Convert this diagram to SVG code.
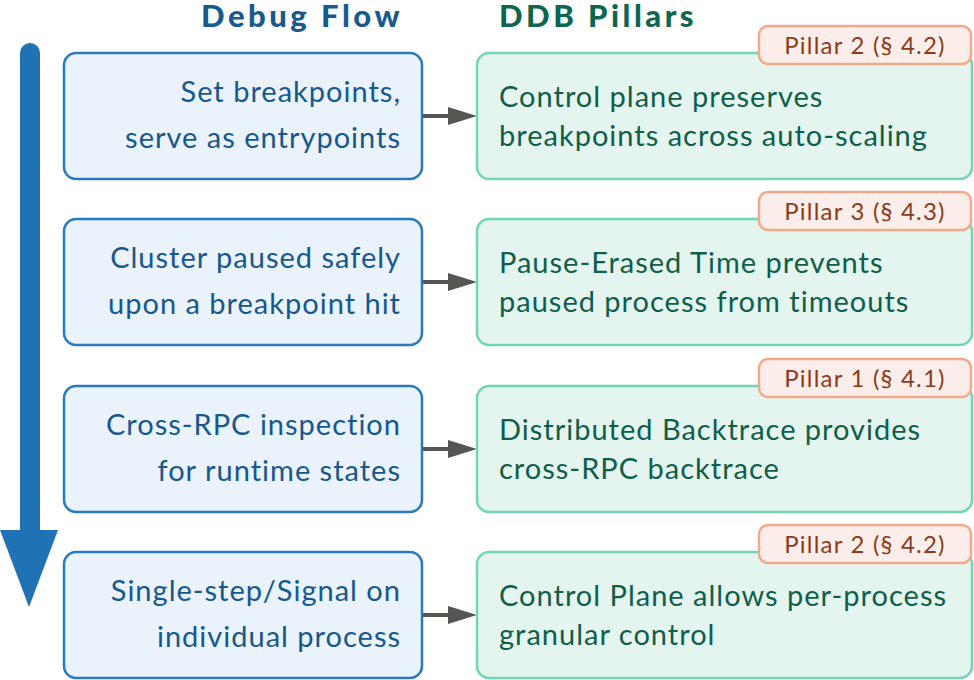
<svg xmlns="http://www.w3.org/2000/svg" width="974" height="680" viewBox="0 0 974 680">
<defs>
<style>
.hdr{font-family:Lato,"Open Sans",sans-serif;font-weight:900;font-size:31px;letter-spacing:3.5px}
.lbox{fill:#eaf2fb;stroke:#2a7abf;stroke-width:2.5}
.rbox{fill:#e4f5ef;stroke:#72d6b2;stroke-width:2.5}
.tag{fill:#fbeeea;stroke:#f2a98b;stroke-width:2.5}
.lt{font-family:Lato,"Open Sans",sans-serif;font-size:29px;letter-spacing:1px;fill:#16588e;text-anchor:end}
.rt{font-family:Lato,"Open Sans",sans-serif;font-size:29px;letter-spacing:1px;fill:#0e5e4a}
.tt{font-family:Lato,"Open Sans",sans-serif;font-size:24px;letter-spacing:1.2px;fill:#8b3a1a;text-anchor:middle}
.con{stroke:#555552;stroke-width:4;fill:none}
</style>
</defs>
<rect width="974" height="680" fill="#ffffff"/>
<text class="hdr" x="403" y="27" text-anchor="end" fill="#185a8c">Debug Flow</text>
<text class="hdr" x="499" y="27" fill="#0d6650">DDB Pillars</text>
<g id="flow-arrow">
<path d="M20,53 a10,10 0 0 1 20,0 L40,530 L58,530 L29,607 L0,530 L20,530 Z" fill="#1f72b4"/>
</g>
<g id="connectors">
<path class="con" d="M423,116 L450,116"/>
<polygon points="448,107 477,116 448,125" fill="#555552"/>
<path class="con" d="M423,282 L450,282"/>
<polygon points="448,273 477,282 448,291" fill="#555552"/>
<path class="con" d="M423,449 L450,449"/>
<polygon points="448,440 477,449 448,458" fill="#555552"/>
<path class="con" d="M423,615 L450,615"/>
<polygon points="448,606 477,615 448,624" fill="#555552"/>
</g>
<g id="l1"><rect class="lbox" x="64" y="53" width="358" height="126" rx="12"/><text class="lt" x="401" y="102">Set breakpoints,</text><text class="lt" x="401" y="148">serve as entrypoints</text></g>
<g id="l2"><rect class="lbox" x="64" y="219" width="358" height="126" rx="12"/><text class="lt" x="401" y="268">Cluster paused safely</text><text class="lt" x="401" y="314">upon a breakpoint hit</text></g>
<g id="l3"><rect class="lbox" x="64" y="386" width="358" height="126" rx="12"/><text class="lt" x="401" y="435">Cross-RPC inspection</text><text class="lt" x="401" y="481">for runtime states</text></g>
<g id="l4"><rect class="lbox" x="64" y="552" width="358" height="126" rx="12"/><text class="lt" x="401" y="601">Single-step/Signal on</text><text class="lt" x="401" y="647">individual process</text></g>
<g id="r1"><rect class="rbox" x="477" y="53" width="495" height="126" rx="12"/><text class="rt" x="499" y="107">Control plane preserves</text><text class="rt" x="499" y="146">breakpoints across auto-scaling</text></g>
<g id="t1"><rect class="tag" x="759" y="26" width="212" height="38" rx="9"/><text class="tt" x="865" y="54">Pillar 2 (§ 4.2)</text></g>
<g id="r2"><rect class="rbox" x="477" y="219" width="495" height="126" rx="12"/><text class="rt" x="499" y="273">Pause-Erased Time prevents</text><text class="rt" x="499" y="312">paused process from timeouts</text></g>
<g id="t2"><rect class="tag" x="759" y="192" width="212" height="38" rx="9"/><text class="tt" x="865" y="220">Pillar 3 (§ 4.3)</text></g>
<g id="r3"><rect class="rbox" x="477" y="386" width="495" height="126" rx="12"/><text class="rt" x="499" y="440">Distributed Backtrace provides</text><text class="rt" x="499" y="479">cross-RPC backtrace</text></g>
<g id="t3"><rect class="tag" x="759" y="359" width="212" height="38" rx="9"/><text class="tt" x="865" y="387">Pillar 1 (§ 4.1)</text></g>
<g id="r4"><rect class="rbox" x="477" y="552" width="495" height="126" rx="12"/><text class="rt" x="499" y="606">Control Plane allows per-process</text><text class="rt" x="499" y="645">granular control</text></g>
<g id="t4"><rect class="tag" x="759" y="525" width="212" height="38" rx="9"/><text class="tt" x="865" y="553">Pillar 2 (§ 4.2)</text></g>
</svg>
